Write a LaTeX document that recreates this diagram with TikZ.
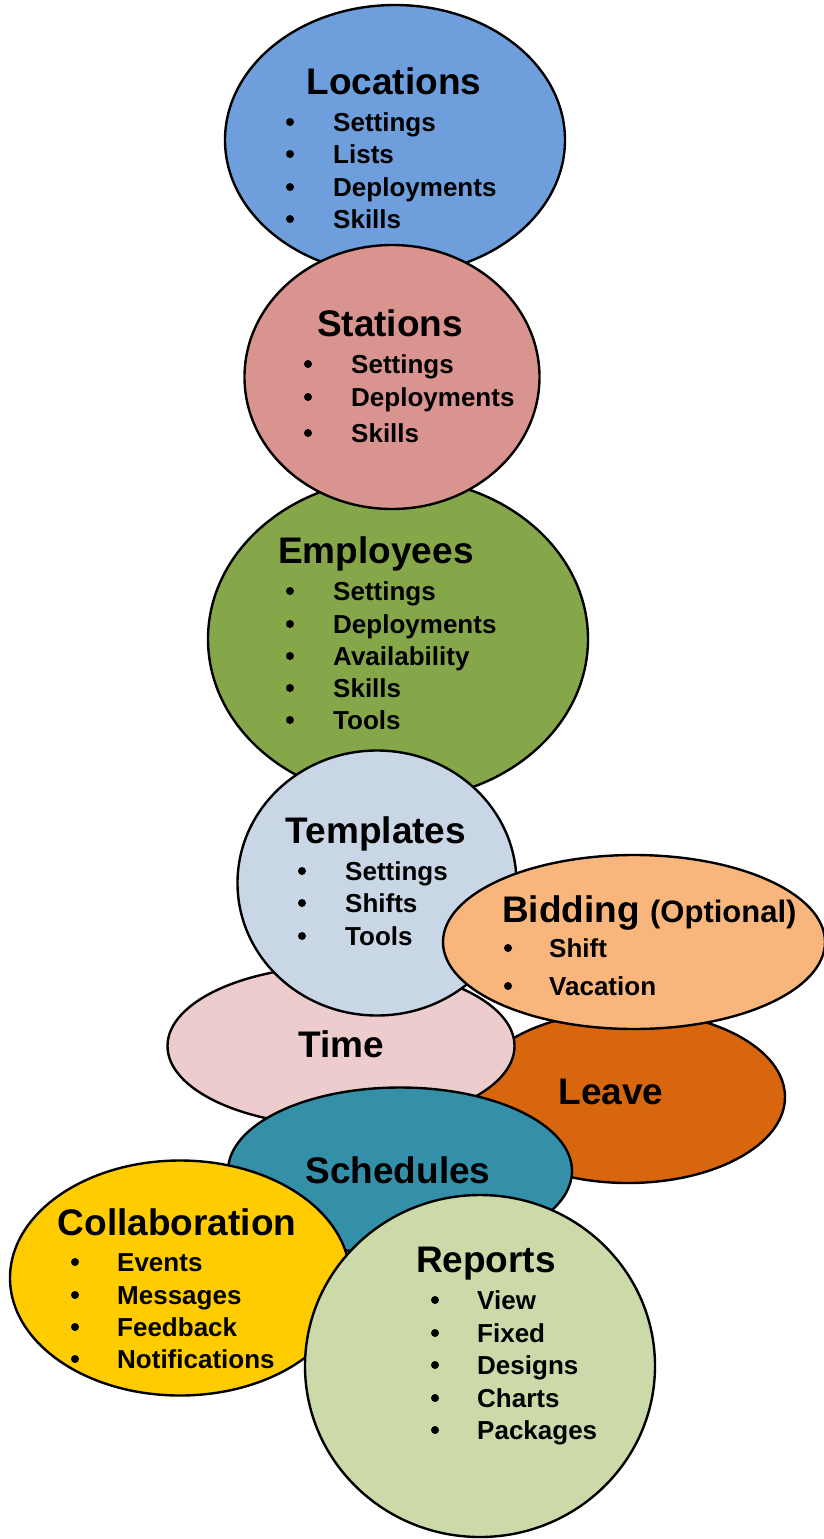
\documentclass[tikz,border=0pt]{standalone}
\usepackage{fontspec}
\setmainfont{Liberation Sans}
\usetikzlibrary{shapes.geometric}

\definecolor{cLoc}{HTML}{6E9EDB}
\definecolor{cSta}{HTML}{DA9490}
\definecolor{cEmp}{HTML}{86A64A}
\definecolor{cTpl}{HTML}{C8D6E6}
\definecolor{cBid}{HTML}{F8B67C}
\definecolor{cTim}{HTML}{ECCCCC}
\definecolor{cLea}{HTML}{D8660E}
\definecolor{cSch}{HTML}{3490A8}
\definecolor{cCol}{HTML}{FFCC00}
\definecolor{cRep}{HTML}{CCDAAA}

\tikzset{
  blob/.style={ellipse, draw=black, line width=2.4pt, inner sep=0pt},
  heading/.style={font=\fontsize{37}{42}\selectfont\bfseries, anchor=base, inner sep=0pt},
  entry/.style={font=\fontsize{26}{30}\selectfont\bfseries, anchor=base west, inner sep=0pt},
  dot/.style={circle, fill=black, minimum size=8pt, inner sep=0pt},
}

% one bulleted line: name, bullet x, text x, baseline y, text
\newcommand\bulletrow[5]{%
  \node[dot] (#1-b) at (#2,#4-9) {};
  \node[entry] (#1) at (#3,#4) {#5};
}

\begin{document}
\begin{tikzpicture}[x=1pt,y=-1pt]
\useasboundingbox (0,0) rectangle (824,1539);

% Locations
\node[blob, fill=cLoc, minimum width=340pt, minimum height=270pt] (loc) at (395,140) {};
\node[heading] (loc-t) at (394,94) {Locations};
\bulletrow{loc-1}{290}{333}{131}{Settings}
\bulletrow{loc-2}{290}{333}{163}{Lists}
\bulletrow{loc-3}{290}{333}{196}{Deployments}
\bulletrow{loc-4}{290}{333}{228}{Skills}

% Employees (under Stations)
\node[blob, fill=cEmp, minimum width=380pt, minimum height=322pt] (emp) at (398,639) {};
\node[heading] (emp-t) at (376,563) {Employees};
\bulletrow{emp-1}{290}{333}{600}{Settings}
\bulletrow{emp-2}{290}{333}{633}{Deployments}
\bulletrow{emp-3}{290}{333}{665}{Availability}
\bulletrow{emp-4}{290}{333}{697}{Skills}
\bulletrow{emp-5}{290}{333}{729}{Tools}

% Stations
\node[blob, fill=cSta, minimum width=295pt, minimum height=264pt] (sta) at (392,377) {};
\node[heading] (sta-t) at (390,336) {Stations};
\bulletrow{sta-1}{308}{351}{373}{Settings}
\bulletrow{sta-2}{308}{351}{406}{Deployments}
\bulletrow{sta-3}{308}{351}{442}{Skills}

% Leave
\node[blob, fill=cLea, minimum width=314pt, minimum height=172pt] (lea) at (628,1097) {};
\node[heading] (lea-t) at (611,1104) {Leave};

% Time
\node[blob, fill=cTim, minimum width=347pt, minimum height=160pt] (tim) at (341,1046) {};
\node[heading] (tim-t) at (341,1057) {Time};

% Templates
\node[blob, fill=cTpl, minimum width=279pt, minimum height=265pt] (tpl) at (377,883) {};
\node[heading] (tpl-t) at (376,843) {Templates};
\bulletrow{tpl-1}{302}{345}{880}{Settings}
\bulletrow{tpl-2}{302}{345}{912}{Shifts}
\bulletrow{tpl-3}{302}{345}{945}{Tools}

% Bidding
\node[blob, fill=cBid, minimum width=382pt, minimum height=174pt] (bid) at (634,942) {};
\node[heading, anchor=base west] (bid-t) at (502,922) {Bidding {\fontsize{31}{34}\selectfont(Optional)}};
\bulletrow{bid-1}{508}{549}{957}{Shift}
\bulletrow{bid-2}{508}{549}{995}{Vacation}

% Schedules
\node[blob, fill=cSch, minimum width=344pt, minimum height=167pt] (sch) at (400,1171) {};
\node[heading] (sch-t) at (398,1183) {Schedules};

% Collaboration
\node[blob, fill=cCol, minimum width=340pt, minimum height=235pt] (col) at (180,1278) {};
\node[heading] (col-t) at (177,1235) {Collaboration};
\bulletrow{col-1}{75}{117}{1271}{Events}
\bulletrow{col-2}{75}{117}{1304}{Messages}
\bulletrow{col-3}{75}{117}{1336}{Feedback}
\bulletrow{col-4}{75}{117}{1368}{Notifications}

% Reports
\node[blob, fill=cRep, minimum width=350pt, minimum height=342pt] (rep) at (480,1366) {};
\node[heading] (rep-t) at (486,1272) {Reports};
\bulletrow{rep-1}{435}{477}{1309}{View}
\bulletrow{rep-2}{435}{477}{1342}{Fixed}
\bulletrow{rep-3}{435}{477}{1374}{Designs}
\bulletrow{rep-4}{435}{477}{1407}{Charts}
\bulletrow{rep-5}{435}{477}{1439}{Packages}
\end{tikzpicture}
\end{document}
